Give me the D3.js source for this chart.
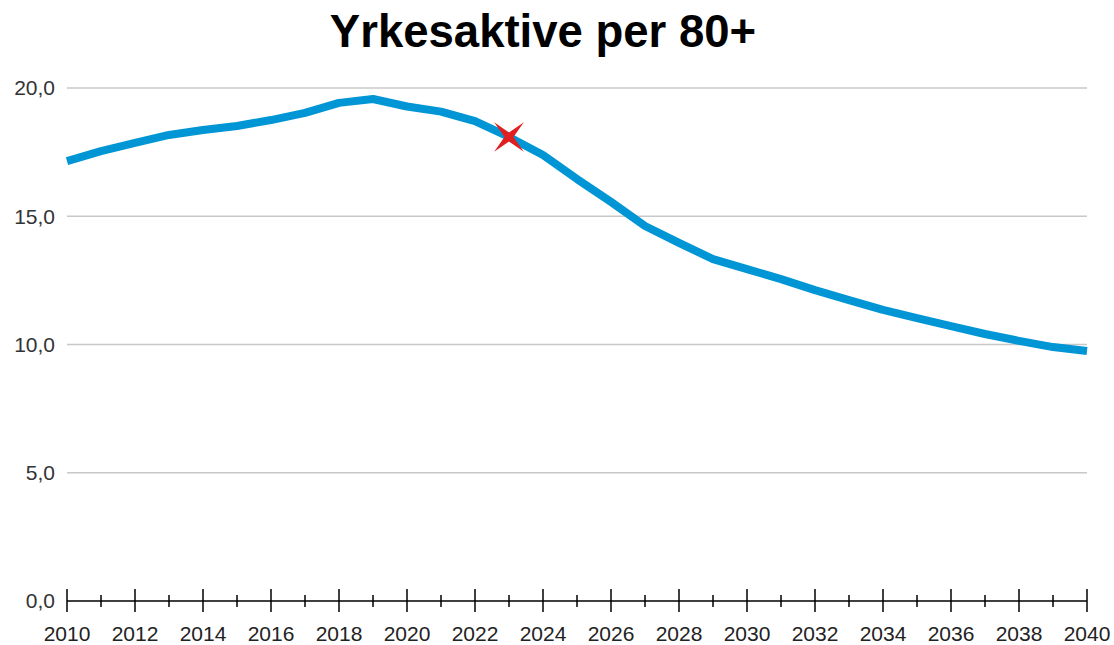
<!DOCTYPE html>
<html><head><meta charset="utf-8">
<script src="https://cdn.jsdelivr.net/npm/d3@7"></script>
<style>body{margin:0;background:#fff;}svg{display:block;}</style>
</head><body>
<svg id="c" width="1114" height="645"></svg>
<script>
const title = "Yrkesaktive per 80+";
const years = d3.range(2010, 2041);
const values = [17.15,17.54,17.86,18.17,18.36,18.52,18.75,19.03,19.42,19.57,
  19.28,19.08,18.71,18.09,17.39,16.45,15.56,14.62,13.96,13.33,
  12.94,12.55,12.12,11.73,11.35,11.03,10.72,10.41,10.14,9.90,9.75];
const markerYear = 2023;
const markerValue = 18.09;
const yTicks = [0,5,10,15,20];
const xLabelYears = d3.range(2010, 2041, 2);

const svg = d3.select("#c");
const x = d3.scaleLinear().domain([2010,2040]).range([67,1087]);
const y = d3.scaleLinear().domain([0,20]).range([601,88]);
const fmt = v => d3.format(".1f")(v).replace(".", ",");
const font = "Liberation Sans, Arial, sans-serif";

svg.append("text").attr("x",543).attr("y",47).attr("text-anchor","middle")
  .attr("font-family",font).attr("font-weight","bold")
  .attr("font-size",45.5).attr("fill","#000").text(title);

// grid
svg.append("g").selectAll("line").data(yTicks.filter(d=>d>0)).join("line")
  .attr("x1",67).attr("x2",1087).attr("y1",d=>y(d)).attr("y2",d=>y(d))
  .attr("stroke","#c8c8c8").attr("stroke-width",1.3);

// y labels
svg.append("g").selectAll("text").data(yTicks).join("text")
  .attr("x",55).attr("y",d=>y(d)).attr("dy","0.35em").attr("text-anchor","end")
  .attr("font-family",font).attr("font-size",21).attr("fill","#333")
  .text(fmt);

// x axis
const xg = svg.append("g").attr("transform",`translate(0,${y(0)})`);
xg.append("line").attr("x1",67).attr("x2",1087).attr("stroke","#000").attr("stroke-width",1.5);
xg.selectAll("line.t").data(years).join("line").attr("class","t")
  .attr("x1",d=>x(d)).attr("x2",d=>x(d))
  .attr("y1",d=>d%2===0?-12:-6).attr("y2",d=>d%2===0?11:6)
  .attr("stroke","#000").attr("stroke-width",1.5);
xg.selectAll("text").data(xLabelYears).join("text")
  .attr("x",d=>x(d)).attr("y",40).attr("text-anchor","middle")
  .attr("font-family",font).attr("font-size",21).attr("fill","#222")
  .text(d=>d);

// line
const line = d3.line().x((d,i)=>x(years[i])).y(d=>y(d));
svg.append("path").datum(values).attr("d",line).attr("fill","none")
  .attr("stroke","#0096d6").attr("stroke-width",8).attr("stroke-linejoin","round");

// star marker
const sx = x(markerYear), sy = y(markerValue);
const r = 21, ri = 4.5;
const pts = [];
for (let k=0;k<8;k++){
  const a = Math.PI/4 + k*Math.PI/4;
  const rr = k%2===0 ? r : ri;
  pts.push([sx+rr*Math.cos(a), sy+rr*Math.sin(a)]);
}
svg.append("polygon").attr("points",pts.map(p=>p.join(",")).join(" "))
  .attr("fill","#e02020");
</script>
</body></html>
